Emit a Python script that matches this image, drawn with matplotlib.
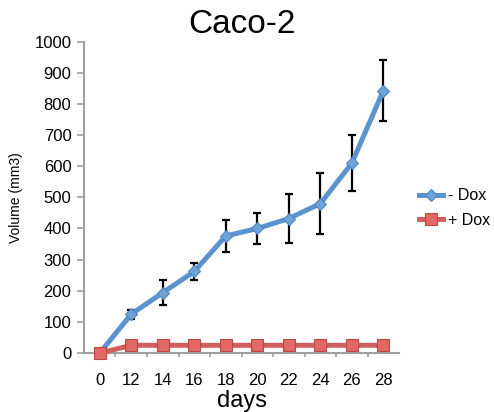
import numpy as np
import matplotlib
matplotlib.use('Agg')
import matplotlib.pyplot as plt

plt.rcParams['font.family'] = ['Liberation Sans', 'DejaVu Sans']

# data
days = ['0', '12', '14', '16', '18', '20', '22', '24', '26', '28']
minus_dox = [0, 125, 194, 262, 376, 400, 432, 480, 610, 843]
minus_dox_err = [0, 14, 40, 28, 50, 50, 80, 98, 91, 98]
plus_dox = [0, 25, 25, 25, 25, 25, 25, 25, 25, 25]

blue = '#5b93cc'
red = '#d0605e'
grey = '#a0a0a0'

fig = plt.figure(figsize=(4.94, 4.12), dpi=100)
ax = fig.add_axes([0.170, 0.143, 0.638, 0.756])

x = np.arange(len(days))

ax.errorbar(x, minus_dox, yerr=minus_dox_err, fmt='none', ecolor='black',
            elinewidth=1.6, capsize=3, capthick=1.6, zorder=2)
ax.plot(x, minus_dox, color=blue, lw=3.6, marker='D', markersize=6,
        markerfacecolor='#6fa3d8', markeredgecolor='#4f86bf', markeredgewidth=0.8,
        label='- Dox', zorder=3)
ax.plot(x, plus_dox, color=red, lw=3.6, marker='s', markersize=8,
        markerfacecolor='#e26765', markeredgecolor='#b84a48', markeredgewidth=0.8,
        label='+ Dox', zorder=4, clip_on=False)

ax.set_xlim(-0.5, len(days) - 0.5)
ax.set_ylim(0, 1000)
ax.set_yticks(np.arange(0, 1001, 100))
ax.set_xticks(x)
ax.set_xticklabels(days)
ax.set_xticks(np.arange(0.5, len(days) - 0.5, 1), minor=True)

for s in ['top', 'right']:
    ax.spines[s].set_visible(False)
for s in ['left', 'bottom']:
    ax.spines[s].set_color(grey)
    ax.spines[s].set_linewidth(1.5)

ax.tick_params(axis='x', which='major', length=0, pad=14, labelsize=12)
ax.tick_params(axis='x', which='minor', length=3, color=grey, width=1.2, direction='out')
ax.tick_params(axis='y', length=5, color=grey, width=1.2, direction='out', labelsize=12, pad=4)

ax.set_title('Caco-2', fontsize=24, pad=6)
ax.set_xlabel('days', fontsize=17, labelpad=2)
ax.set_ylabel('Volume (mm3)', fontsize=10, labelpad=8)

ax.legend(loc='center left', bbox_to_anchor=(1.032, 0.465), frameon=False,
          fontsize=11.5, handlelength=1.5, handletextpad=0.3, labelspacing=0.6,
          borderaxespad=0.3, borderpad=0.3)

fig.savefig('out.png', dpi=100)
